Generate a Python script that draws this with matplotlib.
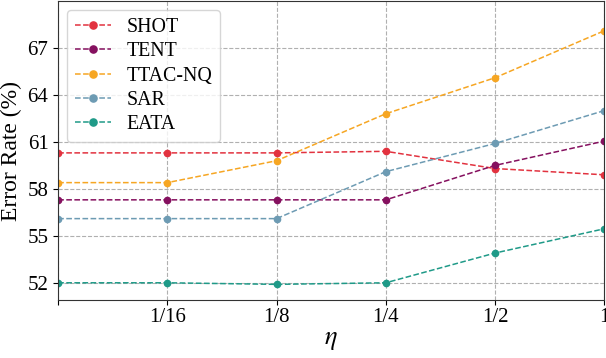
import matplotlib
matplotlib.use("Agg")
from matplotlib import pyplot as plt

plt.rcParams['font.family'] = ['Liberation Serif', 'DejaVu Serif']
plt.rcParams['mathtext.fontset'] = 'stix'

# x positions: the first point sits on the left edge and has no label
x_pos = [0, 1, 2, 3, 4, 5]
x_labels = ['', '1/16', '1/8', '1/4', '1/2', '1']

methods = ['SHOT', 'TENT', 'TTAC-NQ', 'SAR', 'EATA']
shot = [60.3, 60.3, 60.3, 60.4, 59.3, 58.9]
tent = [57.3, 57.3, 57.3, 57.3, 59.5, 61.05]
ttac = [58.4, 58.4, 59.8, 62.8, 65.1, 68.1]
sar = [56.1, 56.1, 56.1, 59.1, 60.9, 63.0]
eata = [52.0, 52.0, 51.9, 52.0, 53.9, 55.45]

colors = ['#e2323f', '#85105f', '#f6a623', '#6d9bb3', '#1f9a88']
series = [shot, tent, ttac, sar, eata]

fig, ax = plt.subplots(figsize=(6.06, 3.58), dpi=100)
for name, vals, c in zip(methods, series, colors):
    ax.plot(x_pos, vals, linestyle='--', marker='o', markersize=4.5,
            linewidth=1.1, color=c, label=name)

ax.set_xlim(0, 5)
ax.set_ylim(50.9, 70)
ax.set_xticks(x_pos)
ax.set_xticklabels(x_labels)
ax.set_yticks([52, 55, 58, 61, 64, 67])
ax.tick_params(labelsize=15)
ax.tick_params(axis='x', pad=2.5)
ax.grid(True, linestyle='--', color='#b0b0b0', linewidth=0.8)
ax.set_axisbelow(True)
ax.set_xlabel(r'$\eta$', fontsize=19, labelpad=2)
ax.set_ylabel('Error Rate (%)', fontsize=17)
for s in ax.spines.values():
    s.set_color('#333333')
leg = ax.legend(loc='upper left', fontsize=14.3, handlelength=1.8, labelspacing=0.27,
                borderpad=0.4, handletextpad=0.8, markerscale=1.15,
                bbox_to_anchor=(0.016, 0.97), borderaxespad=0)
leg.get_frame().set_edgecolor('#cccccc')

plt.subplots_adjust(left=0.096, right=0.997, top=0.997, bottom=0.162)
plt.savefig('out.png', dpi=100)
